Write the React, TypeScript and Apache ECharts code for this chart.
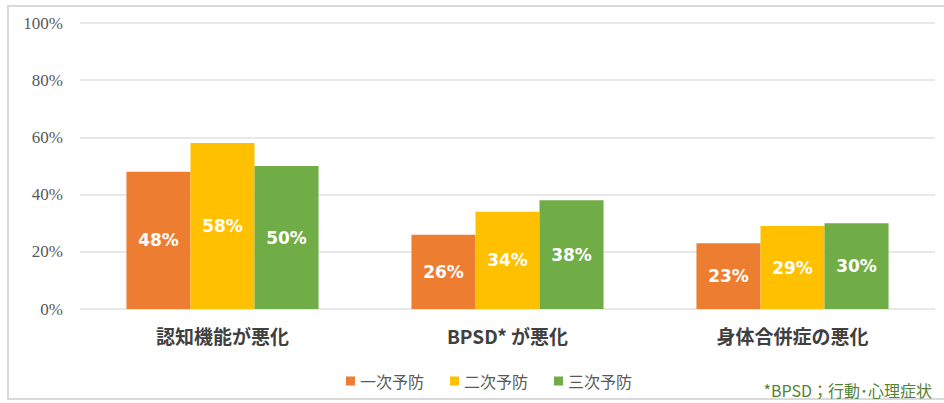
import React, { useEffect, useRef } from "react";
import * as echarts from "echarts";

const categories = ["認知機能が悪化", "BPSD* が悪化", "身体合併症の悪化"];
const seriesNames = ["一次予防", "二次予防", "三次予防"];
const primary = [48, 26, 23];
const secondary = [58, 34, 29];
const tertiary = [50, 38, 30];
const colors = ["#ED7D31", "#FFC000", "#70AD47"];
const yTicks = [0, 20, 40, 60, 80, 100];
const footnote = "*BPSD；行動･心理症状";

export default function App() {
  const ref = useRef<HTMLDivElement>(null);
  useEffect(() => {
    if (!ref.current) return;
    const chart = echarts.init(ref.current, null, { renderer: "svg" });
    const data = [primary, secondary, tertiary];
    chart.setOption({
      animation: false,
      backgroundColor: "#ffffff",
      grid: { left: 80, right: 9, top: 23, bottom: 94, containLabel: false },
      legend: {
        data: seriesNames.map((n) => ({ name: n, icon: "rect" })),
        left: 341,
        top: 368,
        itemWidth: 9,
        itemHeight: 9,
        itemGap: 26,
        textStyle: { color: "#595959", fontSize: 16, fontFamily: "Noto Sans CJK JP" },
      },
      xAxis: {
        type: "category",
        data: categories,
        axisLine: { show: false },
        axisTick: { show: false },
        axisLabel: {
          color: "#404040",
          fontSize: 19,
          fontWeight: "bold",
          fontFamily: "Noto Sans CJK JP",
          margin: 17,
        },
      },
      yAxis: {
        type: "value",
        min: 0,
        max: yTicks[yTicks.length - 1],
        interval: 20,
        axisLine: { show: false },
        axisTick: { show: false },
        splitLine: { lineStyle: { color: "#e0e0e0", width: 1.5 } },
        axisLabel: {
          formatter: "{value}%",
          color: "#595959",
          fontSize: 17,
          fontFamily: "Liberation Serif",
          margin: 17,
        },
      },
      series: seriesNames.map((name, i) => ({
        name,
        type: "bar",
        data: data[i],
        barGap: "0%",
        barCategoryGap: "32.6%",
        itemStyle: { color: colors[i] },
        label: {
          show: true,
          position: "inside",
          formatter: "{c}%",
          color: "#ffffff",
          fontSize: 17,
          fontWeight: "bold",
          fontFamily: "DejaVu Sans",
        },
      })),
      graphic: [
        {
          type: "rect",
          shape: { x: 8, y: 6, width: 945, height: 393 },
          style: { fill: "none", stroke: "#d9d9d9", lineWidth: 2 },
          silent: true,
        },
        {
          type: "text",
          right: 12,
          top: 382,
          style: {
            text: footnote,
            fill: "#548235",
            fontSize: 16,
            fontFamily: "Noto Sans CJK JP",
          },
        },
      ],
    });
    return () => chart.dispose();
  }, []);
  return (
    <div
      ref={ref}
      style={{ position: "fixed", left: 0, top: 0, width: 944, height: 403 }}
    />
  );
}
